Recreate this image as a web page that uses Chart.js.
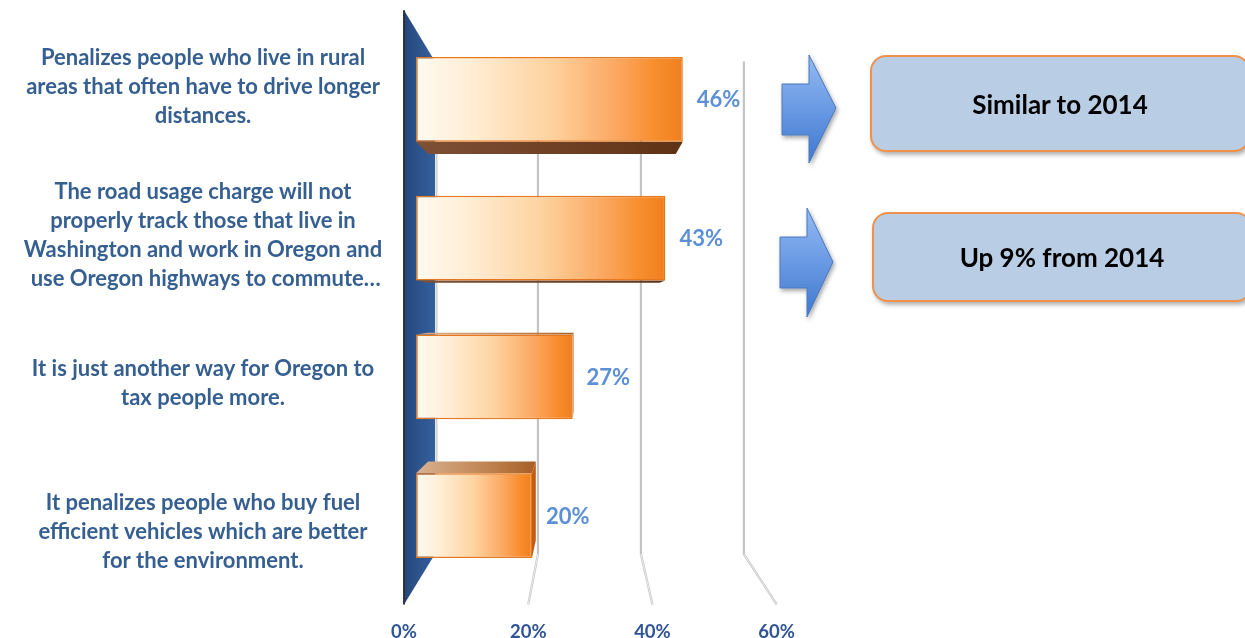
<!DOCTYPE html>
<html lang="en">
<head>
<meta charset="UTF-8">
<title>Road usage charge concerns</title>
<script src="https://cdn.jsdelivr.net/npm/chart.js@4.4.1/dist/chart.umd.min.js"></script>
<style>
    body { margin: 0; background: #fff; overflow: hidden; }
    #wrap { position: relative; width: 1245px; height: 638px; overflow: hidden; }
    #myChart { position: absolute; left: 0; top: 0; }
    #arrows { position: absolute; left: 0; top: 0; }
    .note {
        position: absolute;
        width: 380px;
        box-sizing: border-box;
        background: #b9cde5;
        border: 2px solid #f0914a;
        border-radius: 16px;
        box-shadow: 2px 3px 4px rgba(0, 0, 0, 0.3);
        font-family: Lato, "Open Sans", sans-serif;
        font-weight: bold;
        font-size: 26px;
        color: #000;
        display: flex;
        align-items: center;
        justify-content: center;
    }
</style>
</head>
<body>
<div id="wrap">
    <canvas id="myChart" width="1245" height="638"></canvas>
    <svg id="arrows" width="1245" height="638">
        <defs>
            <linearGradient id="arrowFill" x1="0" y1="0" x2="0" y2="1">
                <stop offset="0" stop-color="#93bbf5"/>
                <stop offset="1" stop-color="#3f78d0"/>
            </linearGradient>
            <filter id="shadow" x="-20%" y="-20%" width="140%" height="140%">
                <feDropShadow dx="1.5" dy="2.5" stdDeviation="2" flood-opacity="0.35"/>
            </filter>
        </defs>
        <polygon points="782,84 809,84 809,55 836,108 809,163 809,135 782,135"
                 fill="url(#arrowFill)" stroke="#4a78bc" stroke-width="1" filter="url(#shadow)"/>
        <polygon points="780,237 807,237 807,208 833,262 807,317 807,288 780,288"
                 fill="url(#arrowFill)" stroke="#4a78bc" stroke-width="1" filter="url(#shadow)"/>
    </svg>
    <div class="note" style="left:870px; top:55px; height:97px;">Similar to 2014</div>
    <div class="note" style="left:872px; top:212px; height:90px;">Up 9% from 2014</div>
</div>

<script>
    const categories = [
        ['Penalizes people who live in rural', 'areas that often have to drive longer', 'distances.'],
        ['The road usage charge will not', 'properly track those that live in', 'Washington and work in Oregon and', ' use Oregon highways to commute…'],
        ['It is just another way for Oregon to', 'tax people more.'],
        ['It penalizes people who buy fuel', 'efficient vehicles which are better', 'for the environment.']
    ];
    const percentValues = [46, 43, 27, 20];
    const tickValues = [0, 20, 40, 60];

    // fake 3d: vanishing point and depth ratios relative to the bar plane
    const VPX = 585, VPY = 310;
    const FRONT = -0.0707, BACK = 0.1124, BAR_DEPTH = 0.0717;
    function proj(x, y, r) {
        return [x + (VPX - x) * r, y + (VPY - y) * r];
    }
    function poly(ctx, pts) {
        ctx.beginPath();
        ctx.moveTo(pts[0][0], pts[0][1]);
        for (let i = 1; i < pts.length; i++) ctx.lineTo(pts[i][0], pts[i][1]);
        ctx.closePath();
    }

    const labelFont = 'bold 22px Lato, "Open Sans", sans-serif';

    const depthPlugin = {
        id: 'depth3d',
        beforeDatasetsDraw(chart) {
            const { ctx, chartArea: a, scales: { x } } = chart;
            ctx.save();

            // gridlines on the back wall, bending to the floor
            tickValues.forEach(v => {
                if (v === 0) return;
                const px = x.getPixelForValue(v);
                const t = proj(px, a.top, BACK);
                const b = proj(px, a.bottom, BACK);
                const f = proj(px, a.bottom, FRONT);
                ctx.strokeStyle = '#c3c3c3';
                ctx.lineWidth = 2.2;
                ctx.beginPath();
                ctx.moveTo(t[0], t[1]);
                ctx.lineTo(b[0], b[1]);
                ctx.lineTo(f[0], f[1]);
                ctx.stroke();
                ctx.strokeStyle = '#f6f6f6';
                ctx.lineWidth = 0.8;
                ctx.beginPath();
                ctx.moveTo(b[0], b[1]);
                ctx.lineTo(f[0], f[1]);
                ctx.stroke();
            });

            // the base wall
            const ft = proj(a.left, a.top, FRONT);
            const bt = proj(a.left, a.top, BACK);
            const bb = proj(a.left, a.bottom, BACK);
            const fb = proj(a.left, a.bottom, FRONT);
            ctx.strokeStyle = '#cfcfcf';
            ctx.lineWidth = 2;
            ctx.beginPath();
            ctx.moveTo(bt[0] + 1.5, bt[1]);
            ctx.lineTo(bb[0] + 1.5, bb[1]);
            ctx.stroke();
            const wg = ctx.createLinearGradient(ft[0], 0, bt[0], 0);
            wg.addColorStop(0, '#26487c');
            wg.addColorStop(1, '#33609e');
            poly(ctx, [ft, bt, bb, fb]);
            ctx.fillStyle = wg;
            ctx.fill();
            ctx.strokeStyle = '#2b2f38';
            ctx.lineWidth = 2;
            ctx.beginPath();
            ctx.moveTo(ft[0], ft[1]);
            ctx.lineTo(fb[0], fb[1]);
            ctx.stroke();

            // bar side faces
            chart.getDatasetMeta(0).data.forEach(el => {
                const top = el.y - el.height / 2;
                const bottom = el.y + el.height / 2;
                if (bottom < VPY) {
                    const pts = [[el.base, bottom], [el.x, bottom], proj(el.x, bottom, BAR_DEPTH), proj(el.base, bottom, BAR_DEPTH)];
                    const g = ctx.createLinearGradient(el.base, 0, el.x, 0);
                    g.addColorStop(0, '#7e5036');
                    g.addColorStop(0.6, '#6e3e22');
                    g.addColorStop(1, '#5e3216');
                    poly(ctx, pts);
                    ctx.fillStyle = g;
                    ctx.fill();
                }
                if (top > VPY) {
                    const pts = [[el.base, top], [el.x, top], proj(el.x, top, BAR_DEPTH), proj(el.base, top, BAR_DEPTH)];
                    const g = ctx.createLinearGradient(el.base, 0, el.x, 0);
                    g.addColorStop(0, '#d9b291');
                    g.addColorStop(0.6, '#c08452');
                    g.addColorStop(1, '#a8622a');
                    poly(ctx, pts);
                    ctx.fillStyle = g;
                    ctx.fill();
                }
                if (el.x < VPX) {
                    const pts = [[el.x, top], [el.x, bottom], proj(el.x, bottom, BAR_DEPTH), proj(el.x, top, BAR_DEPTH)];
                    poly(ctx, pts);
                    ctx.fillStyle = '#c25c10';
                    ctx.fill();
                }
            });
            ctx.restore();
        },
        afterDraw(chart) {
            const { ctx, chartArea: a, scales: { x, y } } = chart;
            ctx.save();

            // category labels, placed on the front plane
            ctx.font = labelFont;
            ctx.fillStyle = '#365f91';
            ctx.textAlign = 'center';
            ctx.textBaseline = 'middle';
            categories.forEach((lines, i) => {
                const fy = proj(a.left, y.getPixelForValue(i), FRONT)[1];
                const start = fy + 2 - (lines.length - 1) * 29 / 2;
                lines.forEach((line, j) => {
                    ctx.fillText(line, 203, start + j * 29);
                });
            });

            // value labels
            ctx.font = 'bold 22px Lato, "Open Sans", sans-serif';
            ctx.fillStyle = '#5b8fd6';
            ctx.textAlign = 'left';
            chart.getDatasetMeta(0).data.forEach((el, i) => {
                ctx.fillText(percentValues[i] + '%', el.x + 14, el.y + 1);
            });

            // axis tick labels on the floor edge
            ctx.font = 'bold 18.5px Lato, "Open Sans", sans-serif';
            ctx.fillStyle = '#2f5597';
            ctx.textAlign = 'center';
            tickValues.forEach(v => {
                const f = proj(x.getPixelForValue(v), a.bottom, FRONT);
                ctx.fillText(v + '%', f[0], 632);
            });
            ctx.restore();
        }
    };

    const ctx = document.getElementById('myChart').getContext('2d');
    const myChart = new Chart(ctx, {
        type: 'bar',
        data: {
            labels: categories,
            datasets: [{
                data: percentValues,
                backgroundColor: function(context) {
                    const chart = context.chart;
                    if (!chart.chartArea) return '#f7a04a';
                    const xs = chart.scales.x;
                    const x0 = xs.getPixelForValue(0);
                    const x1 = xs.getPixelForValue(context.raw);
                    const g = chart.ctx.createLinearGradient(x0, 0, x1, 0);
                    g.addColorStop(0, '#fffaf0');
                    g.addColorStop(0.2, '#ffeed6');
                    g.addColorStop(0.5, '#fed3a0');
                    g.addColorStop(0.75, '#fba862');
                    g.addColorStop(0.9, '#f78d2c');
                    g.addColorStop(1, '#f07f1e');
                    return g;
                },
                borderColor: '#e8781e',
                borderWidth: 1.5,
                borderSkipped: false,
                barPercentage: 0.612,
                categoryPercentage: 1
            }]
        },
        options: {
            indexAxis: 'y',
            responsive: false,
            animation: false,
            devicePixelRatio: 1,
            layout: {
                padding: { left: 416, top: 30, right: 481, bottom: 53 }
            },
            scales: {
                x: {
                    display: false,
                    min: 0,
                    max: 60
                },
                y: {
                    display: false
                }
            },
            plugins: {
                legend: { display: false },
                tooltip: { enabled: false }
            }
        },
        plugins: [depthPlugin]
    });
</script>
</body>
</html>
